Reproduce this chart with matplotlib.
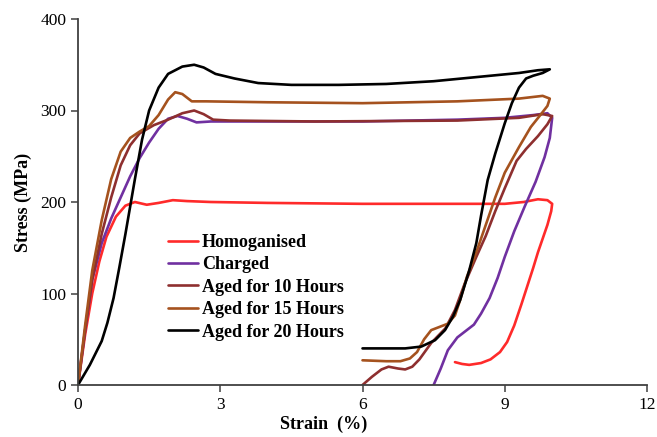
import matplotlib
matplotlib.use('Agg')
import matplotlib.pyplot as plt

(W, H, DPI) = (657, 437, 100)
plt.rcParams['font.family'] = ['Liberation Serif', 'DejaVu Serif']
###############################################################################
# Data (strain %, stress MPa), loading then unloading
###############################################################################
homStrain = [0, 0.15, 0.3, 0.45, 0.6, 0.8, 1.0, 1.2, 1.45, 1.7, 2.0, 2.3, 2.8,
             4, 6, 8, 9.0, 9.4, 9.7, 9.9, 10.0, 9.98, 9.9, 9.8, 9.7, 9.6, 9.5,
             9.35, 9.2, 9.05, 8.9, 8.7, 8.5, 8.25, 8.1, 7.95]
homStress = [0, 55, 100, 135, 162, 184, 196, 200, 197, 199, 202, 201, 200,
             199, 198, 198, 198, 200, 203, 202, 198, 190, 175, 160, 145, 128,
             112, 88, 65, 47, 36, 28, 24, 22, 23, 25]

chgStrain = [0, 0.15, 0.3, 0.5, 0.7, 0.9, 1.1, 1.3, 1.5, 1.7, 1.9, 2.1, 2.3,
             2.5, 2.8, 4, 6, 8, 9, 9.6, 9.9, 10.0, 9.95, 9.84, 9.65, 9.42,
             9.2, 9.0, 8.85, 8.68, 8.5, 8.35, 8.2, 8.0, 7.8, 7.65, 7.5]
chgStress = [0, 60, 115, 155, 182, 205, 228, 248, 265, 280, 291, 294, 291,
             287, 288, 288, 288, 290, 292, 295, 297, 292, 270, 249, 222, 195,
             168, 140, 117, 95, 78, 66, 60, 52, 38, 18, 0]

a10Strain = [0, 0.15, 0.3, 0.5, 0.7, 0.9, 1.1, 1.3, 1.6, 1.9, 2.2, 2.45, 2.65,
             2.85, 3.2, 5, 8, 9.3, 9.8, 10.0, 9.9, 9.7, 9.45, 9.25, 9.0, 8.8,
             8.6, 8.4, 8.15, 7.95, 7.75, 7.45, 7.2, 7.05, 6.9, 6.75, 6.55,
             6.4, 6.2, 6.0]
a10Stress = [0, 60, 115, 165, 205, 240, 262, 275, 284, 290, 297, 300, 296,
             290, 289, 288, 289, 292, 296, 294, 285, 272, 258, 245, 215, 190,
             163, 140, 110, 82, 62, 46, 28, 20, 17, 18, 20, 17, 9, 0]

a15Strain = [0, 0.15, 0.3, 0.5, 0.7, 0.9, 1.1, 1.3, 1.5, 1.7, 1.9, 2.05, 2.2,
             2.4, 2.7, 4, 6, 8, 9.3, 9.8, 9.95, 9.9, 9.75, 9.55, 9.3, 9.0, 8.8,
             8.6, 8.4, 8.2, 8.06, 7.95, 7.8, 7.6, 7.45, 7.3, 7.15, 7.0, 6.8,
             6.5, 6.0]
a15Stress = [0, 65, 125, 180, 225, 255, 270, 277, 283, 295, 312, 320, 318,
             310, 310, 309, 308, 310, 313, 316, 313, 305, 295, 282, 260, 232,
             205, 175, 145, 118, 93, 76, 67, 63, 60, 50, 36, 29, 26, 26, 27]

a20Strain = [0, 0.25, 0.5, 0.62, 0.75, 0.87, 1.0, 1.1, 1.2, 1.35, 1.5, 1.7,
             1.9, 2.2, 2.45, 2.65, 2.9, 3.3, 3.8, 4.5, 5.5, 6.5, 7.5, 8.5, 9.3,
             9.7, 9.95, 9.8, 9.6, 9.45, 9.3, 9.15, 9.0, 8.8, 8.64, 8.5, 8.4,
             8.25, 8.06, 7.91, 7.74, 7.53, 7.24, 6.9, 6.5, 6.0]
a20Stress = [0, 22, 48, 68, 95, 128, 165, 195, 225, 268, 300, 325, 340, 348,
             350, 347, 340, 335, 330, 328, 328, 329, 332, 337, 341, 344, 345,
             341, 338, 335, 325, 308, 286, 253, 224, 185, 155, 125, 93, 75,
             60, 49, 42, 40, 40, 40]

labels = ['Homoganised', 'Charged', 'Aged for 10 Hours',
          'Aged for 15 Hours', 'Aged for 20 Hours']
colors = ['#FF2A2A', '#7030A0', '#8E2F2F', '#A5521E', '#000000']
series = [(homStrain, homStress), (chgStrain, chgStress),
          (a10Strain, a10Stress), (a15Strain, a15Stress),
          (a20Strain, a20Stress)]
###############################################################################
# Plot
###############################################################################
fig = plt.figure(figsize=(W / DPI, H / DPI), dpi=DPI)
ax = fig.add_axes([78 / W, 1 - 385 / H, 569 / W, 366 / H])
for ((x, y), lbl, col) in zip(series, labels, colors):
    ax.plot(x, y, color=col, lw=1.9, label=lbl,
            solid_capstyle='round', solid_joinstyle='round')
# Axes ------------------------------------------------------------------------
ax.set_xlim(0, 12)
ax.set_ylim(0, 400)
ax.set_xticks(range(0, 13, 3))
ax.set_yticks(range(0, 401, 100))
ax.spines['top'].set_visible(False)
ax.spines['right'].set_visible(False)
for s in ('left', 'bottom'):
    ax.spines[s].set_color('#404040')
    ax.spines[s].set_linewidth(1.3)
ax.tick_params(labelsize=12.5, length=5, width=1.1, color='#404040')
ax.set_xlabel('Strain  (%)', fontsize=13, fontweight='bold')
ax.xaxis.set_label_coords(0.432, -0.085)
ax.set_ylabel('Stress (MPa)', fontsize=13, fontweight='bold', labelpad=6)
# Legend ----------------------------------------------------------------------
ax.legend(loc='upper left', bbox_to_anchor=(0.158, 0.413), frameon=False,
          prop={'size': 13, 'weight': 'bold'}, handlelength=1.67,
          handletextpad=0.22, labelspacing=0.3, borderpad=0,
          borderaxespad=0)
fig.savefig('out.png', dpi=DPI)
